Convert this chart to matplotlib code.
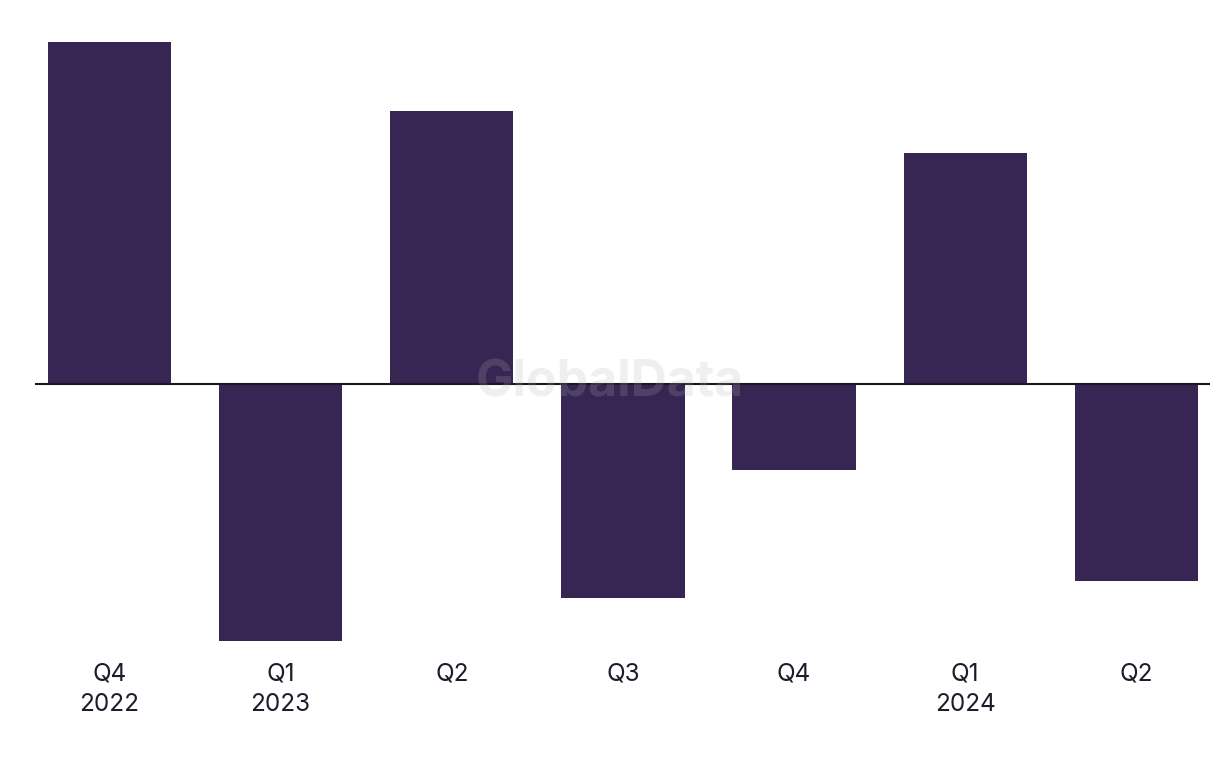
import matplotlib
matplotlib.use("Agg")
import matplotlib.pyplot as plt

quarters = ["Q4\n2022", "Q1\n2023", "Q2", "Q3", "Q4", "Q1\n2024", "Q2"]
values = [342, -257, 273, -214, -86, 231, -197]

bar_color = "#372554"

plt.rcParams["font.family"] = ["Inter", "DejaVu Sans"]

fig = plt.figure(figsize=(12.2, 7.68), dpi=100)
ax = fig.add_axes([35 / 1220, 108 / 768, 1175 / 1220, 640 / 768])

x = list(range(len(values)))
ax.bar(x, values, width=0.72, color=bar_color, zorder=2)
ax.axhline(0, color="#1b1727", lw=1.5, zorder=3)

ax.set_xlim(-0.435, 6.43)
ax.set_ylim(-276, 364)
ax.set_xticks(x)
ax.set_xticklabels(quarters, fontsize=17.5, color="#1e1b2b", linespacing=1.4)
ax.tick_params(axis="x", length=0, pad=2)
ax.set_yticks([])
for s in ax.spines.values():
    s.set_visible(False)

# watermark
fig.text(610 / 1220, 1 - 383 / 768, "GlobalData", ha="center", va="center",
         fontsize=36, fontweight="bold", color="#b2b2b2", alpha=0.2, zorder=10)

fig.savefig("out.png", dpi=100)
